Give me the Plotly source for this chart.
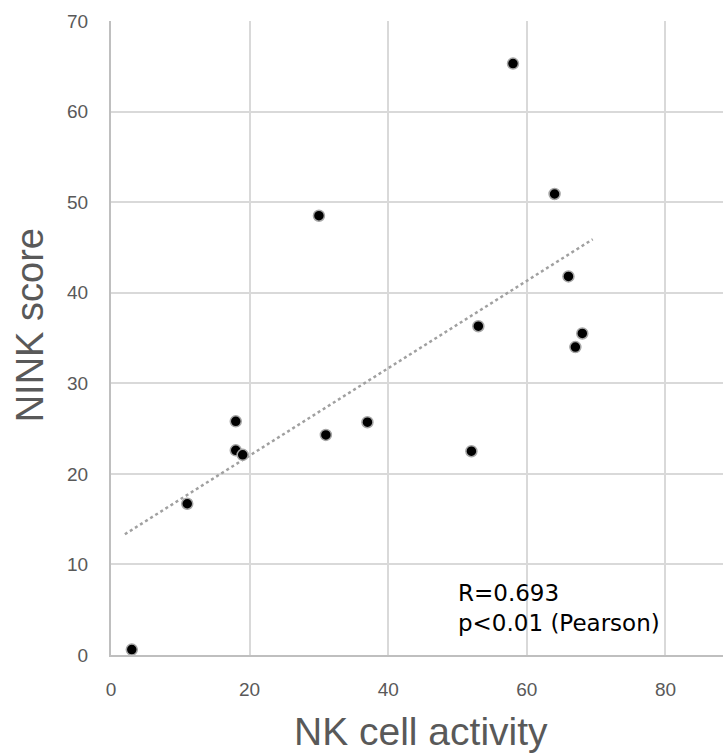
import numpy as np
import plotly.graph_objects as go

# Data
nk_activity = [3, 11, 18, 18, 19, 30, 31, 37, 52, 53, 58, 64, 66, 67, 68]
nink_score = [0.6, 16.7, 25.8, 22.6, 22.1, 48.5, 24.3, 25.7, 22.5, 36.3, 65.3, 50.9, 41.8, 34.0, 35.5]
trend_x_range = [2, 69.5]
x_ticks = [0, 20, 40, 60, 80]
y_ticks = [0, 10, 20, 30, 40, 50, 60, 70]
stats_lines = ["R=0.693", "p<0.01 (Pearson)"]
x_title = "NK cell activity"
y_title = "NINK score"

slope, intercept = np.polyfit(nk_activity, nink_score, 1)
trend_x = np.array(trend_x_range)
trend_y = slope * trend_x + intercept

fig = go.Figure()
fig.add_trace(go.Scatter(
    x=trend_x, y=trend_y, mode="lines",
    line=dict(color="#a0a0a0", width=2.5, dash="dot"),
    hoverinfo="skip", showlegend=False))
fig.add_trace(go.Scatter(
    x=nk_activity, y=nink_score, mode="markers",
    marker=dict(size=11, color="black", line=dict(color="#a6a6a6", width=1.5)),
    showlegend=False))

fig.add_annotation(
    x=49.8, y=5.2, xref="x", yref="y", xanchor="left", yanchor="middle",
    text="<br>".join(stats_lines), showarrow=False, align="left",
    font=dict(family="DejaVu Sans, Verdana, sans-serif", size=23, color="black"))

title_font = dict(family="Liberation Sans, Arial, sans-serif", size=39, color="#595959")
fig.add_annotation(
    x=0.507, y=0, xref="paper", yref="paper", xanchor="center", yanchor="middle",
    yshift=-76, text=x_title, showarrow=False, font=title_font)
fig.add_annotation(
    x=0, y=0.52, xref="paper", yref="paper", xanchor="center", yanchor="middle",
    xshift=-81, textangle=-90, text=y_title, showarrow=False,
    font=dict(family="Liberation Sans, Arial, sans-serif", size=38, color="#595959"))

axis_font = dict(family="Liberation Sans, Arial, sans-serif", size=19, color="#595959")
fig.update_layout(
    width=723, height=753,
    margin=dict(l=110.5, r=0, t=20.7, b=98, autoexpand=False),
    paper_bgcolor="white", plot_bgcolor="white",
    xaxis=dict(range=[0, 88.3], tickvals=x_ticks, showgrid=True,
               gridcolor="#d9d9d9", gridwidth=1.8,
               showline=True, linecolor="#bfbfbf", linewidth=2,
               zeroline=False, tickfont=axis_font, ticklabelstandoff=16,
               automargin=False),
    yaxis=dict(range=[0, 70], tickvals=y_ticks, showgrid=True,
               gridcolor="#d9d9d9", gridwidth=1.8,
               showline=True, linecolor="#bfbfbf", linewidth=2,
               zeroline=False, tickfont=axis_font, ticklabelstandoff=17,
               automargin=False),
)

fig.write_html(
    "out.html",
    config={"displayModeBar": False},
    post_script="document.body.style.margin='0';document.body.style.overflow='hidden';",
)
